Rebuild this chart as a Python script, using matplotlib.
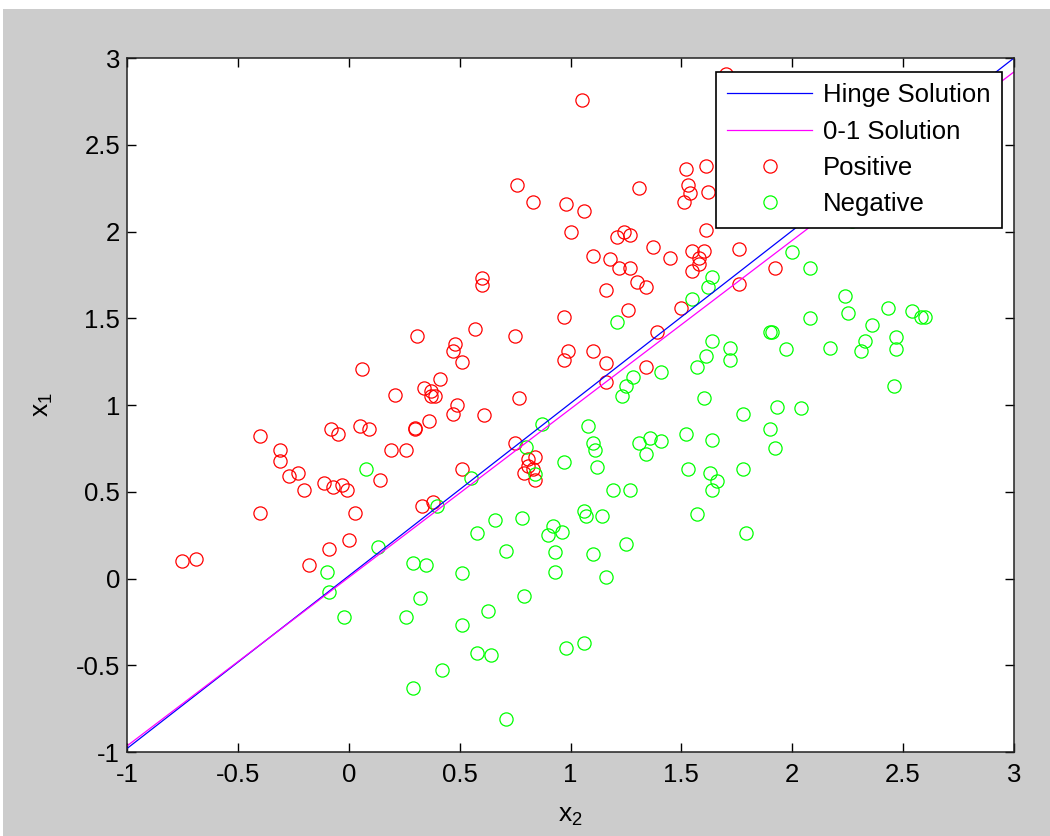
import numpy as np
import matplotlib
matplotlib.use("Agg")
from matplotlib import pyplot as plt
from matplotlib.patches import Rectangle

# positive class (red)
pos_x = [-0.75, -0.69, -0.40, -0.40, -0.31, -0.31, -0.27, -0.23, -0.20, -0.18,
         -0.11, -0.08, -0.09, -0.07, -0.05, -0.03, -0.01, 0.00, 0.03, 0.06,
         0.05, 0.09, 0.14, 0.19, 0.21, 0.26, 0.30, 0.30, 0.31, 0.34,
         0.37, 0.39, 0.37, 0.36, 0.33, 0.38, 0.41, 0.47, 0.49, 0.48,
         0.47, 0.51, 0.51, 0.57, 0.60, 0.60, 0.61, 0.75, 0.75, 0.76,
         0.77, 0.79, 0.81, 0.81, 0.83, 0.84, 0.84, 0.83, 0.97, 0.97,
         0.98, 0.99, 1.00, 1.05, 1.06, 1.10, 1.10, 1.16, 1.16, 1.16,
         1.18, 1.21, 1.22, 1.24, 1.26, 1.27, 1.27, 1.30, 1.31, 1.34,
         1.34, 1.37, 1.39, 1.45, 1.50, 1.51, 1.52, 1.53, 1.54, 1.55,
         1.60, 1.58, 1.58, 1.55, 1.61, 1.62, 1.61, 1.70, 1.76, 1.76,
         1.92]
pos_y = [0.10, 0.11, 0.82, 0.38, 0.74, 0.68, 0.59, 0.61, 0.51, 0.08,
         0.55, 0.86, 0.17, 0.53, 0.83, 0.54, 0.51, 0.22, 0.38, 1.21,
         0.88, 0.86, 0.57, 0.74, 1.06, 0.74, 0.87, 0.86, 1.40, 1.10,
         1.08, 1.05, 1.05, 0.91, 0.42, 0.44, 1.15, 0.95, 1.00, 1.35,
         1.31, 1.25, 0.63, 1.44, 1.69, 1.73, 0.94, 1.40, 0.78, 2.27,
         1.04, 0.61, 0.65, 0.69, 0.63, 0.57, 0.70, 2.17, 1.26, 1.51,
         2.16, 1.31, 2.00, 2.76, 2.12, 1.86, 1.31, 1.24, 1.13, 1.66,
         1.84, 1.97, 1.79, 2.00, 1.55, 1.98, 1.79, 1.71, 2.25, 1.68,
         1.22, 1.91, 1.42, 1.85, 1.56, 2.17, 2.36, 2.27, 2.22, 1.89,
         1.89, 1.85, 1.81, 1.77, 2.38, 2.23, 2.01, 2.91, 1.90, 1.70,
         1.79]

# negative class (green)
neg_x = [0.08, 0.13, -0.10, -0.09, -0.02, 0.29, 0.35, 0.32, 0.26, 0.29,
         0.40, 0.42, 0.51, 0.51, 0.55, 0.58, 0.58, 0.64, 0.63, 0.66,
         0.71, 0.71, 0.78, 0.79, 0.80, 0.84, 0.87, 0.90, 0.92, 0.96,
         0.93, 0.93, 0.97, 0.98, 1.06, 1.07, 1.06, 1.08, 1.10, 1.11,
         1.10, 1.12, 1.14, 1.16, 1.19, 1.21, 1.23, 1.25, 1.25, 1.27,
         1.28, 1.31, 1.34, 1.36, 1.41, 1.41, 1.52, 1.53, 1.55, 1.57,
         1.57, 1.60, 1.61, 1.62, 1.64, 1.64, 1.64, 1.63, 1.66, 1.64,
         1.72, 1.72, 1.78, 1.78, 1.79, 1.90, 1.91, 1.90, 1.92, 1.93,
         1.97, 2.00, 2.04, 2.08, 2.08, 2.17, 2.24, 2.25, 2.27, 2.31,
         2.33, 2.36, 2.43, 2.46, 2.47, 2.47, 2.54, 2.58, 2.60]
neg_y = [0.63, 0.18, 0.04, -0.08, -0.22, 0.09, 0.08, -0.11, -0.22, -0.63,
         0.42, -0.53, 0.03, -0.27, 0.58, 0.26, -0.43, -0.44, -0.19, 0.34,
         0.16, -0.81, 0.35, -0.10, 0.76, 0.60, 0.89, 0.25, 0.30, 0.27,
         0.15, 0.04, 0.67, -0.40, 0.39, 0.36, -0.37, 0.88, 0.78, 0.74,
         0.14, 0.64, 0.36, 0.01, 0.51, 1.48, 1.05, 0.20, 1.11, 0.51,
         1.16, 0.78, 0.72, 0.81, 1.19, 0.79, 0.83, 0.63, 1.61, 1.22,
         0.37, 1.04, 1.28, 1.68, 1.74, 1.37, 0.80, 0.61, 0.56, 0.51,
         1.33, 1.26, 0.95, 0.63, 0.26, 1.42, 1.42, 0.86, 0.75, 0.99,
         1.32, 1.88, 0.98, 1.79, 1.50, 1.33, 1.63, 1.53, 2.06, 1.31,
         1.37, 1.46, 1.56, 1.11, 1.39, 1.32, 1.54, 1.51, 1.51]

# decision boundaries (end points across the x range)
line_x = [-1, 3]
hinge_y = [-0.98, 3.0]
zero_one_y = [-0.965, 2.92]

plt.rcParams['font.family'] = ['Liberation Sans', 'DejaVu Sans']
plt.rcParams['mathtext.fontset'] = 'custom'
plt.rcParams['mathtext.rm'] = 'Liberation Sans'
plt.rcParams['mathtext.it'] = 'Liberation Sans'

fig = plt.figure(figsize=(10.5, 8.36), dpi=100, facecolor='white')
# grey window background with thin white strip at top/left
fig.patches.append(Rectangle((3/1050, 0), 1, 1 - 9/836, transform=fig.transFigure,
                             facecolor='#cccccc', edgecolor='none', zorder=-10))
ax = fig.add_axes([127/1050, 1 - 752/836, 887/1050, 694/836])

pts_pos, = ax.plot(pos_x, pos_y, 'o', mfc='none', mec=(1, 0, 0), ms=9.5, mew=0.9, ls='none')
pts_neg, = ax.plot(neg_x, neg_y, 'o', mfc='none', mec=(0, 1, 0), ms=9.5, mew=0.9, ls='none')
ln_h, = ax.plot(line_x, hinge_y, color=(0, 0, 1), lw=0.9)
ln_z, = ax.plot(line_x, zero_one_y, color=(1, 0, 1), lw=0.9)

ax.set_xlim(-1, 3)
ax.set_ylim(-1, 3)
ax.set_xticks(np.arange(-1, 3.01, 0.5))
ax.set_yticks(np.arange(-1, 3.01, 0.5))
ax.set_xticklabels(['-1', '-0.5', '0', '0.5', '1', '1.5', '2', '2.5', '3'])
ax.set_yticklabels(['-1', '-0.5', '0', '0.5', '1', '1.5', '2', '2.5', '3'])
ax.tick_params(direction='in', length=6.5, width=1, top=True, right=True,
               labelsize=18.5)
ax.tick_params(axis='x', pad=8)
ax.tick_params(axis='y', pad=5)
for s in ax.spines.values():
    s.set_linewidth(1.1)
    s.set_color('#222222')

ax.set_xlabel('x$_2$', fontsize=19, labelpad=12)
ax.set_ylabel('x$_1$', fontsize=19, labelpad=15)

leg = ax.legend([ln_h, ln_z, pts_pos, pts_neg],
                ['Hinge Solution', '0-1 Solution', 'Positive', 'Negative'],
                loc='upper right', bbox_to_anchor=(0.986, 0.980), borderaxespad=0,
                fontsize=18.5, handlelength=3.3, handletextpad=0.4, labelspacing=0.48,
                borderpad=0.45, fancybox=False, framealpha=1, edgecolor='black')
leg.get_frame().set_linewidth(1.2)

fig.savefig('out.png', dpi=100, facecolor=fig.get_facecolor())
